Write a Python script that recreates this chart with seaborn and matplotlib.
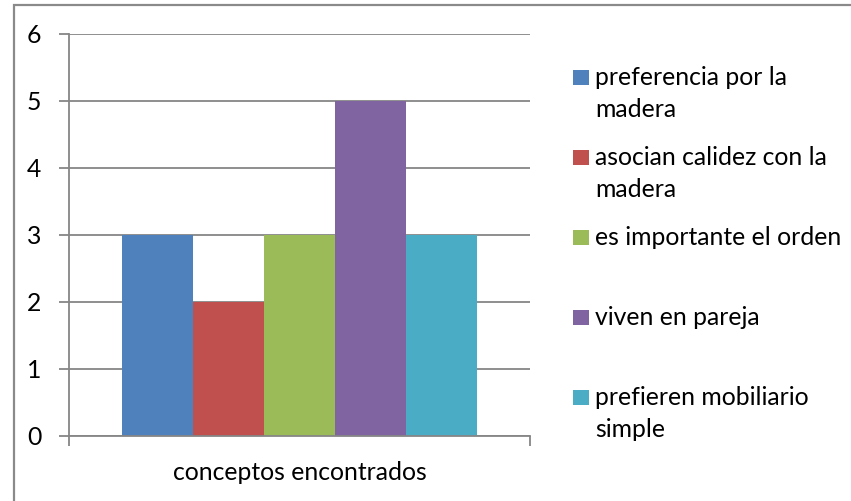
import matplotlib
matplotlib.use("Agg")
import matplotlib.pyplot as plt
from matplotlib.patches import Rectangle
import pandas as pd
import seaborn as sns

# Survey summary: how many times each concept came up
category = "conceptos encontrados"
concepts = [
    "preferencia por la\nmadera",
    "asocian calidez con la\nmadera",
    "es importante el orden",
    "viven en pareja",
    "prefieren mobiliario\nsimple",
]
counts = [3, 2, 3, 5, 3]
colors = ["#4F81BD", "#C0504D", "#9BBB59", "#8064A2", "#4BACC6"]
y_ticks = [0, 1, 2, 3, 4, 5, 6]

df = pd.DataFrame({"categoria": [category] * len(concepts),
                   "concepto": concepts,
                   "valor": counts})

sns.set_theme(style="white")
plt.rcParams["font.family"] = ["Lato", "DejaVu Sans"]

FS = 17.8
W, H = 851, 501
fig = plt.figure(figsize=(W / 100, H / 100), dpi=100)

def fx(px):
    return px / W

def fy(py):
    return 1 - py / H

left, right, top, bottom = 69, 530, 33.5, 435.7
ax = fig.add_axes([fx(left), fy(bottom), fx(right) - fx(left), fy(top) - fy(bottom)])

grid_c = "#868686"
sns.barplot(data=df, x="categoria", y="valor", hue="concepto",
            hue_order=concepts, palette=colors, width=0.768,
            saturation=1, legend=False, ax=ax, edgecolor="none", linewidth=0)

ax.set_xlim(-0.5, 0.5)
ax.set_ylim(y_ticks[0], y_ticks[-1])
ax.set_yticks(y_ticks)
ax.set_yticklabels([str(t) for t in y_ticks], fontsize=FS, color="black")
ax.yaxis.grid(True, color=grid_c, linewidth=1.3)
ax.set_axisbelow(True)
ax.tick_params(axis="y", which="major", left=True, length=7, width=1.3,
               color=grid_c, pad=13)
ax.tick_params(axis="x", which="major", bottom=False, labelsize=FS, pad=12,
               labelcolor="black")
ax.set_xticks([-0.5, 0.5], minor=True)
ax.tick_params(axis="x", which="minor", bottom=True, length=7, width=1.3,
               color=grid_c)
ax.set_xlabel("")
ax.set_ylabel("")
for side in ["top", "right"]:
    ax.spines[side].set_visible(False)
for side in ["left", "bottom"]:
    ax.spines[side].set_color(grid_c)
    ax.spines[side].set_linewidth(1.3)

# Legend beside the plot: square swatch sitting on the first line's baseline
first_baselines = [85, 165, 245, 325, 405]
line_step = 32
for label, color, yb in zip(concepts, colors, first_baselines):
    fig.patches.append(Rectangle((fx(573), fy(yb)), fx(15.5) , 15 / H,
                                 transform=fig.transFigure,
                                 facecolor=color, edgecolor="none"))
    for i, line in enumerate(label.split("\n")):
        fig.text(fx(595), fy(yb + i * line_step), line, fontsize=FS,
                 color="black", ha="left", va="baseline")

# Outer chart frame
fig.patches.append(Rectangle((fx(14), fy(H + 10)), 1.2, (H + 10 - 4.5) / H,
                             transform=fig.transFigure, fill=False,
                             edgecolor="#8a8a8a", linewidth=1.6))

fig.savefig("out.png", dpi=100, facecolor="white")
